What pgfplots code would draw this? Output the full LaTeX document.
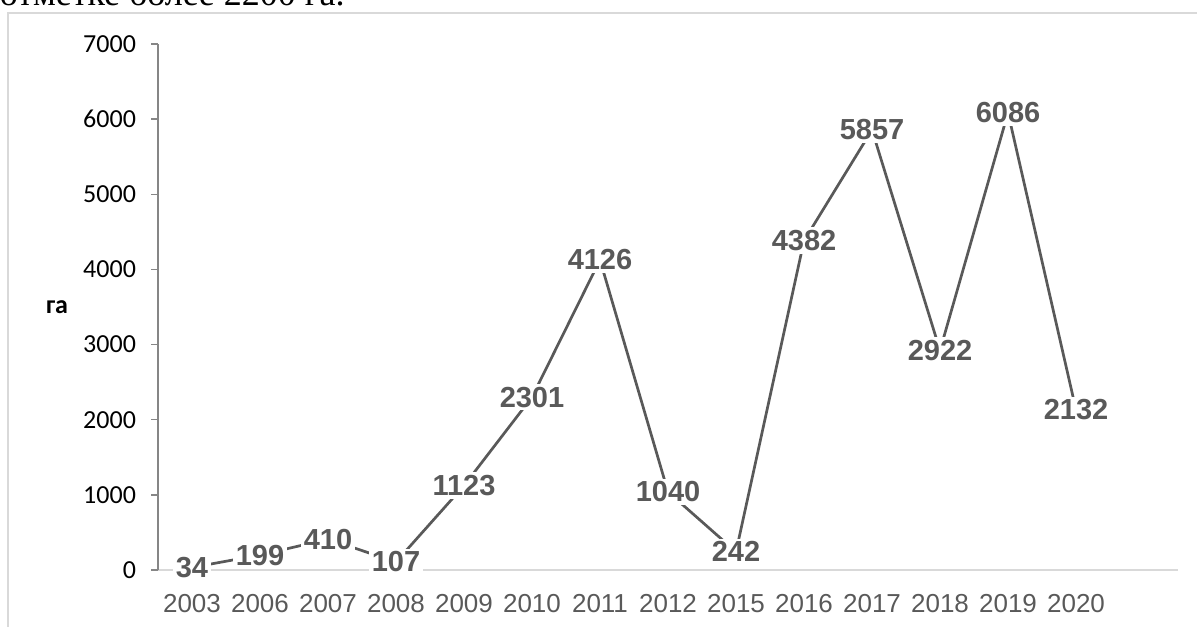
\documentclass[border=0pt]{standalone}
\usepackage{pgfplots}
\pgfplotsset{compat=1.18}
\usepackage{pgfplotstable}
\usepackage{fontspec}
\setmainfont{Liberation Sans}
\newfontfamily\carlito{Carlito}
\newfontfamily\tnr{Liberation Serif}
\definecolor{lineg}{HTML}{595959}
\definecolor{frameg}{HTML}{D9D9D9}
\definecolor{axg}{HTML}{868686}
\pgfplotstableread{
x y lab
0 34 34
1 199 199
2 410 410
3 107 107
4 1123 1123
5 2301 2301
6 4126 4126
7 1040 1040
8 242 242
9 4382 4382
10 5857 5857
11 2922 2922
12 6086 6086
13 2132 2132
}\datatab
\begin{document}
\begin{tikzpicture}
\useasboundingbox (0,0) rectangle (598.5pt,313pt);
\draw[frameg, line width=0.9pt] (4pt,-5pt) -- (4pt,306.5pt) -- (610pt,306.5pt);
\node[anchor=base east, font=\tnr\fontsize{18}{20}\selectfont, inner sep=0pt] at (172.5pt,310pt) {отметке более 2200 га.};
\begin{axis}[
  at={(79pt,28pt)}, anchor=south west,
  scale only axis, width=510pt, height=263pt,
  xmin=-0.5, xmax=14.5, ymin=0, ymax=7000,
  xtick={0,...,13},
  xticklabels={2003,2006,2007,2008,2009,2010,2011,2012,2015,2016,2017,2018,2019,2020},
  ytick={0,1000,...,7000},
  scaled ticks=false,
  /pgf/number format/1000 sep={},
  /pgf/number format/assume math mode=true,
  axis x line*=bottom, axis y line*=left,
  x axis line style={-, draw=frameg, line width=1pt},
  y axis line style={-, draw=axg, line width=0.75pt},
  xtick style={draw=none},
  ytick style={draw=axg, line width=0.75pt},
  tick align=outside, major tick length=3.5pt,
  xticklabel style={font=\fontsize{13}{15}\selectfont, text=lineg, yshift=-5pt},
  yticklabel style={font=\carlito\fontsize{13}{15}\selectfont, text=black, xshift=-4pt},
  ylabel={га},
  ylabel style={rotate=-90, at={(axis description cs:-0.099,0.5)}, anchor=center, font=\carlito\bfseries\fontsize{13}{15}\selectfont},
  clip=false,
]
\addplot[lineg, line width=1.35pt, line join=round, mark=none,
  nodes near coords, point meta=explicit symbolic,
  every node near coord/.append style={anchor=center, fill=white, inner sep=1.5pt,
    font=\bfseries\fontsize{14.5}{16}\selectfont, text=lineg}]
  table[x=x, y=y, meta=lab] {\datatab};
\end{axis}
\end{tikzpicture}
\end{document}
